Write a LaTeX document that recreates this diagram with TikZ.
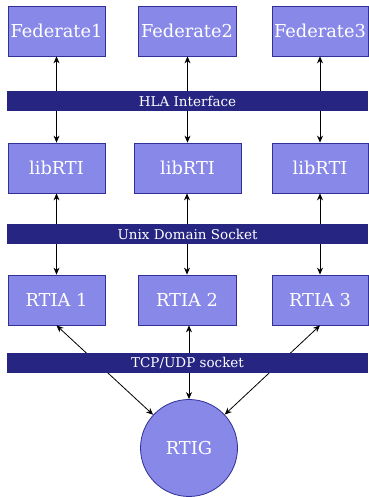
\documentclass[tikz,border=0pt]{standalone}
\usepackage{fontspec}
\setmainfont{DejaVu Serif}
\usetikzlibrary{arrows.meta}
\definecolor{boxfill}{RGB}{136,136,232}
\definecolor{boxline}{RGB}{48,48,150}
\definecolor{barfill}{RGB}{38,38,130}
\tikzset{
  unit/.style={draw=boxline, fill=boxfill, line width=0.8pt, text=white,
    minimum height=50pt, inner sep=0pt, font=\fontsize{17.8}{21}\selectfont},
  bus/.style={fill=barfill, text=white, minimum width=361pt, minimum height=20pt,
    inner sep=0pt, font=\fontsize{13.5}{15}\selectfont},
  link/.style={draw=black, line width=0.8pt, {Stealth[length=7pt,width=6pt]}-{Stealth[length=7pt,width=6pt]}}
}
\begin{document}
\begin{tikzpicture}[x=1pt,y=1pt]
\useasboundingbox (0,0) rectangle (368,497);
% federates
\node[unit, minimum width=97pt] (f1) at (56.5,466) {Federate1};
\node[unit, minimum width=98pt] (f2) at (187,466) {Federate2};
\node[unit, minimum width=96pt] (f3) at (320,466) {Federate3};
% libRTI
\node[unit, minimum width=97pt] (l1) at (56.5,329) {libRTI};
\node[unit, minimum width=107pt] (l2) at (187.5,329) {libRTI};
\node[unit, minimum width=96pt] (l3) at (320,329) {libRTI};
% RTIA
\node[unit, minimum width=97pt] (a1) at (56.5,197) {RTIA 1};
\node[unit, minimum width=98pt] (a2) at (187,197) {RTIA 2};
\node[unit, minimum width=96pt] (a3) at (320,197) {RTIA 3};
% RTIG
\node[unit, circle, minimum size=97pt] (g) at (189,49) {RTIG};
% connectors
\draw[link] (l1.north) -- (f1.south);
\draw[link] (l2.north) -- (l2.north |- f2.south);
\draw[link] (l3.north) -- (f3.south);
\draw[link] (a1.north) -- (l1.south);
\draw[link] (a2.north) -- (a2.north |- l2.south);
\draw[link] (a3.north) -- (l3.south);
\draw[link] (g) -- (a1.south);
\draw[link] (g) -- (g |- a2.south);
\draw[link] (g) -- (a3.south);
% buses drawn over the connectors
\node[bus] (hla) at (187.5,396) {HLA Interface};
\node[bus] (uds) at (187.5,263) {Unix Domain Socket};
\node[bus] (tcp) at (187.5,134) {TCP/UDP socket};
\end{tikzpicture}
\end{document}
